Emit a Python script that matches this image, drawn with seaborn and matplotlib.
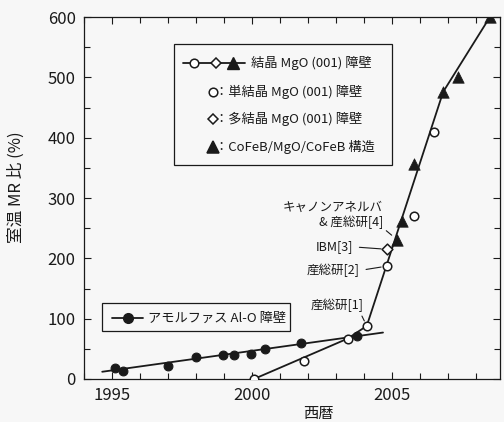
import matplotlib
matplotlib.use("Agg")
import matplotlib.pyplot as plt
from matplotlib.patches import Rectangle
from matplotlib.ticker import MultipleLocator, FixedLocator
import seaborn as sns
import pandas as pd

# Amorphous Al-O barrier
alo_years = [1995.1, 1995.4, 1997.0, 1998.0, 1998.95, 1999.37, 1999.95, 2000.45, 2001.75, 2003.75]
alo_mr = [18, 13, 22, 36, 40, 40, 42, 49, 60, 71]
alo_trend_years = [1994.65, 2004.68]
alo_trend_mr = [12, 77]

# Crystalline MgO(001) barrier
single_years = [2000.07, 2001.85, 2003.42, 2004.1, 2004.81, 2005.78, 2006.5]
single_mr = [0, 30, 67, 88, 187, 270, 410]
poly_years = [2004.81]
poly_mr = [215]
cofeb_years = [2005.18, 2005.35, 2005.77, 2006.83, 2007.37, 2008.5]
cofeb_mr = [231, 262, 357, 476, 501, 600]
mgo_trend_years = [2000.07, 2003.42, 2004.1, 2006.83, 2008.5]
mgo_trend_mr = [0, 67, 88, 476, 600]

x_ticks = [1995, 2000, 2005]
y_ticks = [0, 100, 200, 300, 400, 500, 600]

legend_mgo_title = "結晶 MgO (001) 障壁"
legend_mgo_rows = ["：単結晶 MgO (001) 障壁", "：多結晶 MgO (001) 障壁", "：CoFeB/MgO/CoFeB 構造"]
legend_alo = "アモルファス Al-O 障壁"

sns.set_theme(style="ticks")
plt.rcParams["font.family"] = ["Noto Sans CJK JP", "DejaVu Sans"]
INK = "#1a1a1a"
BG = "#f7f7f7"

fig = plt.figure(figsize=(5.04, 4.22), dpi=100, facecolor=BG)
ax = fig.add_axes([0.1667, 0.1019, 0.8254, 0.8578], facecolor=BG)

df_alo = pd.DataFrame({"year": alo_years, "mr": alo_mr})
df_alo_trend = pd.DataFrame({"year": alo_trend_years, "mr": alo_trend_mr})
df_single = pd.DataFrame({"year": single_years, "mr": single_mr})
df_poly = pd.DataFrame({"year": poly_years, "mr": poly_mr})
df_cofeb = pd.DataFrame({"year": cofeb_years, "mr": cofeb_mr})
df_mgo_trend = pd.DataFrame({"year": mgo_trend_years, "mr": mgo_trend_mr})

# trend lines
sns.lineplot(data=df_alo_trend, x="year", y="mr", ax=ax, color=INK, lw=1.3,
             estimator=None, sort=False, zorder=2)
sns.lineplot(data=df_mgo_trend, x="year", y="mr", ax=ax, color=INK, lw=1.3,
             estimator=None, sort=False, zorder=2)

# markers
sns.scatterplot(data=df_alo, x="year", y="mr", ax=ax, marker="o", s=40,
                color=INK, edgecolor=INK, linewidth=0.8, zorder=3)
sns.scatterplot(data=df_single, x="year", y="mr", ax=ax, marker="o", s=38,
                color="white", edgecolor=INK, linewidth=1.1, zorder=4)
sns.scatterplot(data=df_poly, x="year", y="mr", ax=ax, marker="D", s=30,
                color="white", edgecolor=INK, linewidth=1.1, zorder=4)
sns.scatterplot(data=df_cofeb, x="year", y="mr", ax=ax, marker="^", s=68,
                color=INK, edgecolor=INK, linewidth=0.5, zorder=4)

ax.set_xlim(1994, 2008.86)
ax.set_ylim(0, 600)
ax.xaxis.set_major_locator(FixedLocator(x_ticks))
ax.xaxis.set_minor_locator(MultipleLocator(1))
ax.yaxis.set_major_locator(FixedLocator(y_ticks))
ax.yaxis.set_minor_locator(MultipleLocator(50))
ax.set_xticklabels([str(t) for t in x_ticks])
ax.tick_params(which="both", direction="in", top=True, right=True,
               colors=INK, labelsize=12, width=0.8)
ax.tick_params(which="major", length=5, pad=6)
ax.tick_params(which="minor", length=4)
for sp in ax.spines.values():
    sp.set_linewidth(0.9)
    sp.set_color(INK)

ax.set_xlabel("西暦", fontsize=11, color=INK)
ax.set_ylabel("室温 MR 比 (%)", fontsize=12, color=INK)
ax.xaxis.set_label_coords(0.5625, -0.072)
ax.yaxis.set_label_coords(-0.142, 0.53)

# legend box for the MgO barrier
tr = ax.transAxes
ax.add_patch(Rectangle((0.2163, 0.591), 0.5247, 0.3336, transform=tr,
                       fill=False, ec=INK, lw=0.9, zorder=5))
ax.plot([0.238, 0.387], [0.8738, 0.8738], transform=tr, color=INK, lw=1.3, zorder=6)
ax.plot([0.265], [0.8738], transform=tr, marker="o", ms=6.2, mfc="white",
        mec=INK, mew=1.1, zorder=7)
ax.plot([0.317], [0.8738], transform=tr, marker="D", ms=5.0, mfc="white",
        mec=INK, mew=1.1, zorder=7)
ax.plot([0.359], [0.8738], transform=tr, marker="^", ms=8, color=INK, zorder=7)
ax.text(0.4007, 0.8738, legend_mgo_title, transform=tr, va="center", ha="left",
        fontsize=9.5, color=INK, zorder=7)
row_y = [0.7928, 0.7174, 0.6417]
row_markers = [("o", 6.2, "white"), ("D", 5.0, "white"), ("^", 8, INK)]
for y, (m, ms, fc), label in zip(row_y, row_markers, legend_mgo_rows):
    ax.plot([0.309], [y], transform=tr, marker=m, ms=ms, mfc=fc, mec=INK,
            mew=1.1, zorder=7)
    ax.text(0.316, y, label, transform=tr, va="center", ha="left",
            fontsize=9.5, color=INK, zorder=7)

# legend box for the Al-O barrier
ax.add_patch(Rectangle((0.044, 0.1326), 0.451, 0.0764, transform=tr,
                       fill=False, ec=INK, lw=0.9, zorder=5))
ax.plot([0.0666, 0.1418], [0.1677, 0.1677], transform=tr, color=INK, lw=1.3, zorder=6)
ax.plot([0.105], [0.1677], transform=tr, marker="o", ms=7, color=INK, zorder=7)
ax.text(0.153, 0.1677, legend_alo, transform=tr, va="center", ha="left",
        fontsize=9.5, color=INK, zorder=7)

# labelled reports with leader lines
leader = dict(arrowstyle="-", color=INK, lw=0.8)
ax.annotate("キャノンアネルバ\n& 産総研[4]", xy=(cofeb_years[0], cofeb_mr[0]),
            xytext=(2004.68, 272), ha="right", va="center", multialignment="right",
            fontsize=9, color=INK, linespacing=1.2,
            arrowprops=dict(leader, shrinkA=0, shrinkB=5, relpos=(0.98, 0.1)))
ax.annotate("IBM[3]", xy=(poly_years[0], poly_mr[0]),
            xytext=(2003.62, 219), ha="right", va="center",
            fontsize=9, color=INK,
            arrowprops=dict(leader, shrinkA=2, shrinkB=4, relpos=(1, 0.5)))
ax.annotate("産総研[2]", xy=(single_years[4], single_mr[4]),
            xytext=(2003.86, 180), ha="right", va="center",
            fontsize=9, color=INK,
            arrowprops=dict(leader, shrinkA=2, shrinkB=4, relpos=(1, 0.5)))
ax.annotate("産総研[1]", xy=(single_years[3], single_mr[3]),
            xytext=(2004.0, 123), ha="right", va="center",
            fontsize=9, color=INK,
            arrowprops=dict(leader, shrinkA=1, shrinkB=4, relpos=(0.92, 0.0)))

fig.savefig("out.png", dpi=100, facecolor=BG)
